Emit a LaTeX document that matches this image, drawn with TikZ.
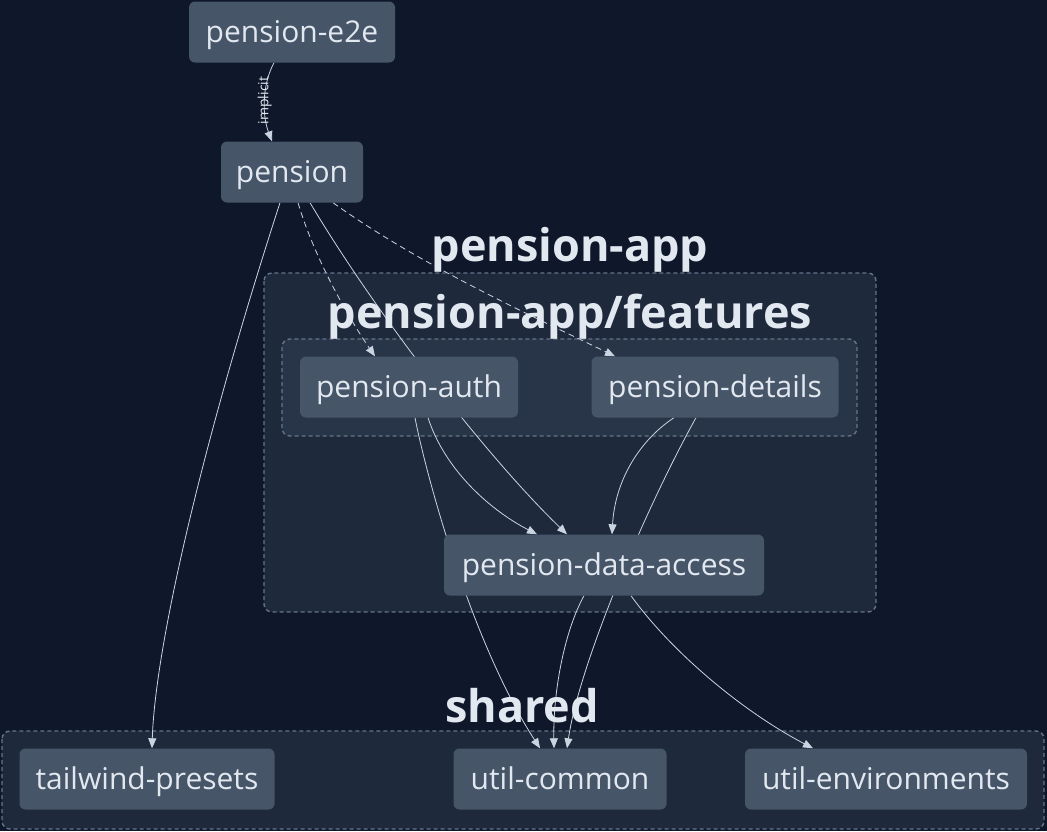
\documentclass[tikz,border=0pt]{standalone}
\usepackage{fontspec}
\setmainfont{Open Sans}
\usetikzlibrary{arrows.meta}
\definecolor{pagebg}{HTML}{0F172A}
\definecolor{groupbg}{HTML}{1E293B}
\definecolor{subgroupbg}{HTML}{283548}
\definecolor{nodebg}{HTML}{475569}
\definecolor{groupline}{HTML}{64748B}
\definecolor{edgecol}{HTML}{CBD5E1}
\definecolor{textcol}{HTML}{E2E8F0}
\pgfdeclarelayer{bg}
\pgfdeclarelayer{edges}
\pgfsetlayers{bg,edges,main}
\begin{document}
\begin{tikzpicture}[x=1pt, y=-1pt,
		project/.style={fill=nodebg, rounded corners=6pt, minimum height=61pt, inner sep=0pt, text height=26pt, text depth=5pt, text=textcol, font=\fontsize{30}{34}\selectfont},
		group/.style={draw=groupline, dash pattern=on 4pt off 3pt, line width=1.4pt, rounded corners=8pt},
		grouplabel/.style={text=textcol, font=\bfseries\fontsize{45}{50}\selectfont},
		dep/.style={draw=edgecol, line width=0.8pt, -{Triangle[length=10pt,width=8pt]}},
		implicitdep/.style={dep, dash pattern=on 6pt off 4pt}]
	% Background and groups
	\begin{pgfonlayer}{bg}
		\fill[pagebg] (0,0) rectangle (1047,831);
		\filldraw[group, fill=groupbg] (264,273) rectangle (876,612);
		\filldraw[group, fill=subgroupbg] (282,339) rectangle (857,436);
		\filldraw[group, fill=groupbg] (2,731) rectangle (1044,829);
	\end{pgfonlayer}
	\useasboundingbox (0,0) rectangle (1047,831);
	\node[grouplabel] (applabel) at (570,250) {pension-app};
	\node[grouplabel] (featlabel) at (570,317) {pension-app/features};
	\node[grouplabel] (sharedlabel) at (522,706) {shared};

	% Projects
	\node[project, minimum width=206pt] (e2e) at (292,32) {pension-e2e};
	\node[project, minimum width=142pt] (pension) at (292,172) {pension};
	\node[project, minimum width=218pt] (auth) at (409,387) {pension-auth};
	\node[project, minimum width=247pt] (details) at (715,387) {pension-details};
	\node[project, minimum width=320pt] (access) at (604,565) {pension-data-access};
	\node[project, minimum width=255pt] (tailwind) at (147,779) {tailwind-presets};
	\node[project, minimum width=213pt] (common) at (560,779) {util-common};
	\node[project, minimum width=282pt] (env) at (886,779) {util-environments};

	% Dependencies
	\begin{pgfonlayer}{edges}
		\draw[dep] ([xshift=-18pt]e2e.south) .. controls (262,85) and (262,115) .. ([xshift=-20pt]pension.north)
			node[midway, rotate=90, text=textcol, font=\fontsize{14}{16}\selectfont] (implicitlabel) {implicit};
		\draw[dep] ([xshift=-12pt]pension.south) .. controls (200,450) and (155,650) .. ([xshift=5pt]tailwind.north);
		\draw[implicitdep] ([xshift=6pt]pension.south) .. controls (315,260) and (350,320) .. ([xshift=-34pt]auth.north);
		\draw[implicitdep] ([xshift=41pt]pension.south) .. controls (420,265) and (530,315) .. ([xshift=-100pt]details.north);
		\draw[dep] ([xshift=18pt]pension.south) .. controls (380,320) and (490,460) .. ([xshift=-37pt]access.north);
		\draw[dep] ([xshift=19pt]auth.south) .. controls (445,470) and (490,510) .. ([xshift=-67pt]access.north);
		\draw[dep] ([xshift=6pt]auth.south) .. controls (425,470) and (470,640) .. ([xshift=-20pt]common.north);
		\draw[dep] ([xshift=-41pt]details.south) .. controls (640,440) and (615,480) .. ([xshift=8pt]access.north);
		\draw[dep] ([xshift=-19pt]details.south) .. controls (650,500) and (580,660) .. ([xshift=7pt]common.north);
		\draw[dep] ([xshift=-20pt]access.south) .. controls (565,630) and (553,690) .. ([xshift=-6pt]common.north);
		\draw[dep] ([xshift=27pt]access.south) .. controls (670,650) and (740,710) .. ([xshift=-73pt]env.north);
	\end{pgfonlayer}
\end{tikzpicture}
\end{document}
